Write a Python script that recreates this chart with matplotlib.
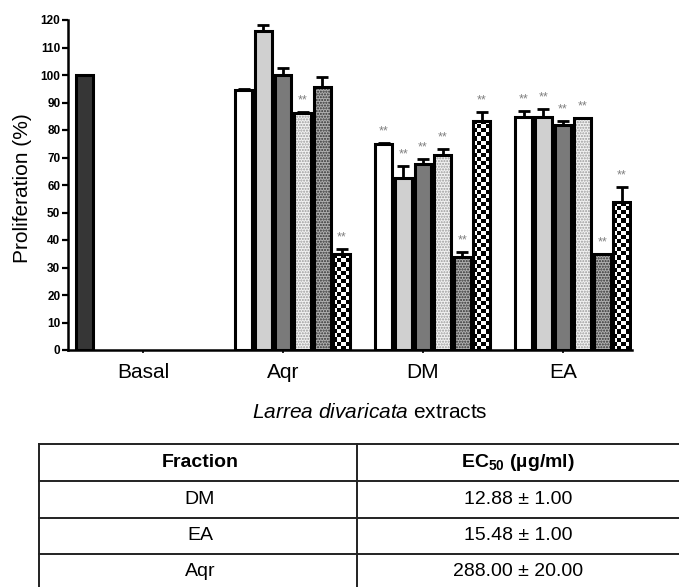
"""Proliferation of cells treated with Larrea divaricata extracts + EC50 table."""

import matplotlib
matplotlib.use("Agg")
import matplotlib.pyplot as plt
import numpy as np
from matplotlib.lines import Line2D

plt.rcParams["font.family"] = ["Liberation Sans", "DejaVu Sans"]
plt.rcParams["mathtext.fontset"] = "custom"
plt.rcParams["mathtext.rm"] = "Liberation Sans"
plt.rcParams["mathtext.it"] = "Liberation Sans:italic"
plt.rcParams["mathtext.bf"] = "Liberation Sans:bold"
plt.rcParams["mathtext.default"] = "regular"
plt.rcParams["hatch.linewidth"] = 1.0

# --------------------------------------------------------------------------- #
# Data
# --------------------------------------------------------------------------- #
groups = ["Basal", "Aqr", "DM", "EA"]
basal_value = 100.0

# six treatment series for the three extracts (Aqr, DM, EA)
values = [
    [94.5, 116.1, 100.1, 86.3, 95.6, 34.8],   # Aqr
    [74.9, 62.7, 67.6, 70.9, 33.7, 83.4],     # DM
    [84.6, 84.8, 82.0, 84.2, 34.8, 53.7],     # EA
]
errors = [
    [0.3, 2.0, 2.4, 0.4, 3.5, 1.9],
    [0.3, 4.2, 2.0, 2.2, 1.8, 3.0],
    [2.3, 2.8, 1.1, 0.3, 0.0, 5.7],
]
signif = [
    [False, False, False, True, False, True],
    [True, True, True, True, True, True],
    [True, True, True, True, True, True],
]

table_header = ["Fraction", "EC$_{50}$ (µg/ml)"]
table_fraction = ["DM", "EA", "Aqr"]
table_ec50 = ["12.88 ± 1.00", "15.48 ± 1.00", "288.00 ± 20.00"]

# --------------------------------------------------------------------------- #
# Styles
# --------------------------------------------------------------------------- #
SLOT = 0.14      # one of 7 bar slots in a group
WIDTH = 0.12
STYLES = [
    dict(face="white", hatch=None, hcolor=None),
    dict(face="#d0d0d0", hatch=None, hcolor=None),
    dict(face="#7a7a7a", hatch=None, hcolor=None),
    dict(face="#f2f2f2", hatch="......", hcolor="#9a9a9a"),
    dict(face="#b0b0b0", hatch="......", hcolor="#303030"),
    dict(face="checker", hatch=None, hcolor=None),
]

fig = plt.figure(figsize=(6.79, 5.87), dpi=100)
ax = fig.add_axes([68 / 679, 1 - 350 / 587, 564 / 679, 330 / 587])

# basal bar sits in slot 0 of the first group
ax.bar(0 - 3 * SLOT, basal_value, width=WIDTH, color="#363636",
       edgecolor="black", linewidth=2.2, zorder=2)

for gi, (vals, errs, sig) in enumerate(zip(values, errors, signif)):
    center = gi + 1
    for si, (v, e, s) in enumerate(zip(vals, errs, sig)):
        x = center + (si - 2) * SLOT
        st = STYLES[si]
        ax.errorbar(x, v, yerr=[[0], [e]], fmt="none", ecolor="black",
                    elinewidth=2, capsize=4, capthick=2, zorder=1)
        if st["face"] == "checker":
            under = ax.bar(x, v, width=WIDTH, color="white", linewidth=0, zorder=2)[0]
            ny = max(1, int(round(v / 1.5)))
            board = (np.indices((ny, 4)).sum(axis=0) % 2).astype(float)
            im = ax.imshow(board, cmap="gray", vmin=0, vmax=1, aspect="auto",
                           interpolation="nearest", zorder=2.5,
                           extent=[x - WIDTH / 2, x + WIDTH / 2, 0, v])
            im.set_clip_path(under)
        elif st["hatch"]:
            ax.bar(x, v, width=WIDTH, color=st["face"], hatch=st["hatch"],
                   edgecolor=st["hcolor"], linewidth=0, zorder=2)
        else:
            ax.bar(x, v, width=WIDTH, color=st["face"], linewidth=0, zorder=2)
        ax.bar(x, v, width=WIDTH, fill=False, edgecolor="black",
               linewidth=2.2, zorder=3)
        if s:
            ax.annotate("**", xy=(x, v + e), xytext=(0, 4),
                        textcoords="offset points", ha="center", va="bottom",
                        fontsize=9, color="#808080")

ax.set_xlim(-0.536, 3.493)
ax.set_ylim(0, 120)
ax.set_yticks(np.arange(0, 121, 10))
ax.set_xticks(range(len(groups)))
ax.set_xticklabels(groups, fontsize=15)
for lab in ax.get_yticklabels():
    lab.set_fontweight("bold")
    lab.set_fontsize(8.5)
ax.tick_params(axis="y", length=4, width=1.6, pad=1.5)
ax.tick_params(axis="x", length=2.5, width=1.2, pad=7)
for side in ("top", "right"):
    ax.spines[side].set_visible(False)
for side in ("left", "bottom"):
    ax.spines[side].set_linewidth(1.8)

fig.text(23 / 679, 1 - 188 / 587, "Proliferation (%)", rotation=90,
         ha="center", va="center", fontsize=15)
fig.text(370 / 679, 1 - 413 / 587, r"$\it{Larrea\ divaricata}$ extracts",
         ha="center", va="center", fontsize=15)

# --------------------------------------------------------------------------- #
# EC50 table (figure pixel layout)
# --------------------------------------------------------------------------- #
W, H = 679.0, 587.0
row_lines = [444, 481, 518, 554]
left_x, mid_x = 39, 357
for yl in row_lines:
    fig.add_artist(Line2D([left_x / W, 1.0], [1 - yl / H, 1 - yl / H],
                          color="#222222", linewidth=1.4))
for xl in (left_x, mid_x):
    fig.add_artist(Line2D([xl / W, xl / W], [1 - row_lines[0] / H, 0],
                          color="#222222", linewidth=1.4))

col_centers = [200 / W, 518 / W]
row_centers = [462.5, 499.5, 536, 572]
for ci, txt in enumerate(table_header):
    fig.text(col_centers[ci], 1 - row_centers[0] / H, txt, ha="center",
             va="center", fontsize=14, fontweight="bold")
for ri, (fr, ec) in enumerate(zip(table_fraction, table_ec50)):
    y = 1 - row_centers[ri + 1] / H
    fig.text(col_centers[0], y, fr, ha="center", va="center", fontsize=14)
    fig.text(col_centers[1], y, ec, ha="center", va="center", fontsize=14)

fig.savefig("out.png", dpi=100)
